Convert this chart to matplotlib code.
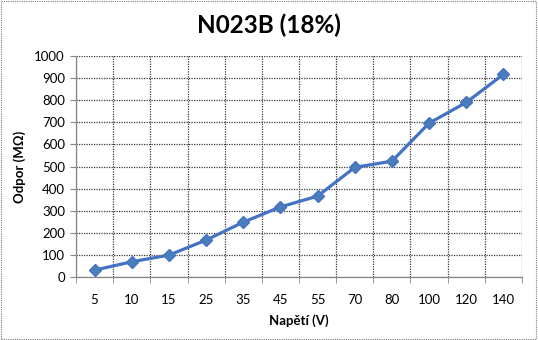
import matplotlib
matplotlib.use("Agg")
import matplotlib.pyplot as plt
from matplotlib.patches import Rectangle
import numpy as np

categories = ["5", "10", "15", "25", "35", "45", "55", "70", "80", "100", "120", "140"]
values = [31, 69, 99, 167, 248, 317, 366, 496, 524, 696, 790, 917]
title = "N023B (18%)"
xlabel = "Napětí (V)"
ylabel = "Odpor (MΩ)"

plt.rcParams['font.family'] = ['Lato', 'DejaVu Sans']

fig = plt.figure(figsize=(5.38, 3.40), dpi=100)
ax = fig.add_axes([76/538, 63/340, 446/538, 221/340])

x = np.arange(len(categories))
ax.plot(x, values, color='#4472C4', lw=2.3, marker='D', markersize=6.5,
        markerfacecolor='#4A7EBB', markeredgecolor='#4472C4', zorder=3)

ax.set_xlim(-0.5, len(categories) - 0.5)
ax.set_ylim(0, 1000)
ax.set_yticks(np.arange(0, 1001, 100))
ax.set_xticks(x)
ax.set_xticklabels(categories)
ax.set_xticks(np.arange(-0.5, len(categories), 1), minor=True)

ax.tick_params(axis='x', which='major', length=0, pad=12, labelsize=9.5)
ax.tick_params(axis='x', which='minor', length=4, color='#868686')
ax.tick_params(axis='y', which='major', length=4, color='#868686', labelsize=9.5, pad=4)

ax.grid(True, axis='y', which='major', color='#3a3a3a', linestyle=(0, (1, 1)), lw=0.9)
ax.grid(True, axis='x', which='minor', color='#3a3a3a', linestyle=(0, (1, 1)), lw=0.9)
ax.set_axisbelow(True)

for s in ['top', 'right']:
    ax.spines[s].set_visible(False)
for s in ['left', 'bottom']:
    ax.spines[s].set_color('#868686')
    ax.spines[s].set_linewidth(0.9)

ax.set_xlabel(xlabel, fontsize=9.5, fontweight='bold', labelpad=6)
ax.set_ylabel(ylabel, fontsize=9.5, fontweight='bold', labelpad=6)
fig.text(0.5, 1 - 25/340, title, ha='center', va='center', fontsize=17.5, fontweight='bold')

fig.patches.append(Rectangle((0.002, 0.003), 0.995, 0.994, transform=fig.transFigure,
                             fill=False, edgecolor='#808080', linestyle=(0, (1, 1)), lw=0.8))

fig.savefig("out.png", dpi=100)
